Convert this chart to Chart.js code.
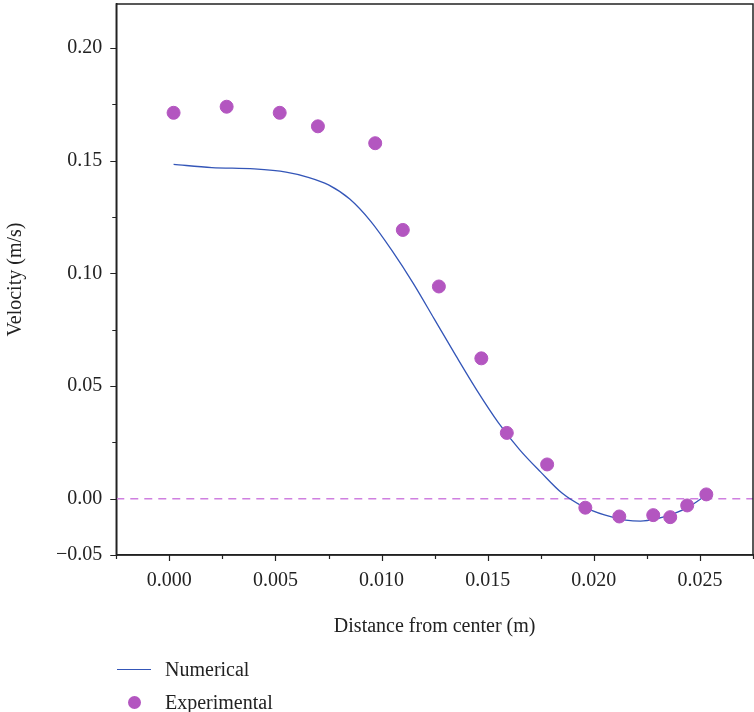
<!DOCTYPE html>
<html>
<head>
<meta charset="utf-8">
<script src="https://cdn.jsdelivr.net/npm/chart.js@4.4.1/dist/chart.umd.min.js"></script>
<style>
  html, body { margin: 0; padding: 0; background: #fff; }
  #wrap { position: relative; width: 754px; height: 712px; }
  #legend { position: absolute; left: 117px; top: 653px; font-family: "Liberation Serif", serif; font-size: 20px; color: #222; }
  .item { display: flex; align-items: center; height: 33px; }
  .swatch { width: 34px; margin-right: 14px; display: flex; justify-content: center; align-items: center; }
</style>
</head>
<body>
<div id="wrap">
  <canvas id="chart" width="754" height="712"></canvas>
  <div id="legend"></div>
</div>
<script>
// distance from center (m)
const expX = [0.0002, 0.0027, 0.0052, 0.0070, 0.0097, 0.0110, 0.0127, 0.0147, 0.0159, 0.0178, 0.0196, 0.0212, 0.0228, 0.0236, 0.0244, 0.0253];
// velocity (m/s)
const expY = [0.1713, 0.1740, 0.1713, 0.1653, 0.1578, 0.1193, 0.0942, 0.0623, 0.0292, 0.0152, -0.0040, -0.0079, -0.0073, -0.0082, -0.0030, 0.0019];

const numX = [0.0002, 0.0020, 0.0040, 0.0055, 0.0065, 0.0075, 0.0085, 0.0095, 0.0105, 0.0115, 0.0125, 0.0135, 0.0145, 0.0155, 0.0165, 0.0175, 0.0185, 0.0195, 0.0205, 0.0215, 0.0222, 0.0230, 0.0238, 0.0245, 0.0253];
const numY = [0.1484, 0.1470, 0.1464, 0.1450, 0.1428, 0.1393, 0.1330, 0.1230, 0.1100, 0.0955, 0.0795, 0.0635, 0.0480, 0.0338, 0.0218, 0.0118, 0.0025, -0.0035, -0.0072, -0.0095, -0.0100, -0.0088, -0.0065, -0.0035, 0.0016];

const xTicks = [-0.0025, 0, 0.0025, 0.005, 0.0075, 0.01, 0.0125, 0.015, 0.0175, 0.02, 0.0225, 0.025, 0.0275];
const xLabels = ["", "0.000", "", "0.005", "", "0.010", "", "0.015", "", "0.020", "", "0.025", ""];
const yTicks = [-0.025, 0, 0.025, 0.05, 0.075, 0.1, 0.125, 0.15, 0.175, 0.2];
const yLabels = ["\u22120.05", "0.00", "", "0.05", "", "0.10", "", "0.15", "", "0.20"];

const lineColor = "#3456b8";
const dotColor = "#b356c0";
const zeroColor = "#cf7fe0";
const axisColor = "#222";
const fontFam = '"Liberation Serif", serif';

const pts = (xs, ys) => xs.map((x, i) => ({ x: x, y: ys[i] }));

// box around the plot + tick marks (long for labelled ticks, short otherwise)
const frame = {
  id: "frame",
  afterDraw(chart) {
    const a = chart.chartArea, ctx = chart.ctx;
    const xs = chart.scales.x, ys = chart.scales.y;
    ctx.save();
    ctx.strokeStyle = axisColor;
    ctx.lineWidth = 1.5;
    ctx.strokeRect(a.left, a.top, a.right - a.left, a.bottom - a.top);
    ctx.lineWidth = 1.2;
    ctx.beginPath();
    xTicks.forEach((v, i) => {
      const px = Math.round(xs.getPixelForValue(v)) + 0.5;
      const len = xLabels[i] ? 6 : 4;
      ctx.moveTo(px, a.bottom);
      ctx.lineTo(px, a.bottom + len);
    });
    yTicks.forEach((v, i) => {
      const py = Math.round(ys.getPixelForValue(v)) + 0.5;
      const len = yLabels[i] ? 6 : 4;
      ctx.moveTo(a.left, py);
      ctx.lineTo(a.left - len, py);
    });
    ctx.stroke();
    ctx.restore();
  }
};

const chart = new Chart(document.getElementById("chart"), {
  type: "scatter",
  data: {
    datasets: [
      {
        label: "zero",
        data: pts([-0.0025, 0.0275], [0, 0]),
        showLine: true,
        borderColor: zeroColor,
        borderWidth: 1.5,
        borderDash: [8, 6],
        pointRadius: 0,
        order: 3
      },
      {
        label: "Numerical",
        data: pts(numX, numY),
        showLine: true,
        borderColor: lineColor,
        borderWidth: 1.3,
        pointRadius: 0,
        cubicInterpolationMode: "monotone",
        order: 2
      },
      {
        label: "Experimental",
        data: pts(expX, expY),
        backgroundColor: dotColor,
        borderColor: dotColor,
        pointRadius: 6.5,
        order: 1
      }
    ]
  },
  options: {
    responsive: false,
    animation: false,
    layout: { autoPadding: false, padding: { top: 4, right: 1, bottom: 69, left: 0 } },
    plugins: { legend: { display: false }, tooltip: { enabled: false } },
    scales: {
      x: {
        min: -0.0025,
        max: 0.0275,
        afterBuildTicks: (s) => { s.ticks = xTicks.map(v => ({ value: v })); },
        afterFit: (s) => { s.paddingRight = 0; },
        ticks: {
          autoSkip: false,
          maxRotation: 0,
          color: axisColor,
          font: { family: fontFam, size: 20 },
          padding: 8,
          callback: (v, i) => xLabels[i]
        },
        grid: { drawOnChartArea: false, tickLength: 6, tickColor: "rgba(0,0,0,0)" },
        border: { color: axisColor, width: 1.5 },
        title: { display: true, text: "Distance from center (m)", color: axisColor, font: { family: fontFam, size: 20 }, padding: { top: 14 } }
      },
      y: {
        min: -0.025,
        max: 0.2196,
        afterBuildTicks: (s) => { s.ticks = yTicks.map(v => ({ value: v })); },
        afterFit: (s) => { s.paddingTop = 0; },
        ticks: {
          autoSkip: false,
          color: axisColor,
          font: { family: fontFam, size: 20 },
          padding: 8,
          callback: (v, i) => yLabels[i]
        },
        grid: { drawOnChartArea: false, tickLength: 6, tickColor: "rgba(0,0,0,0)" },
        border: { color: axisColor, width: 1.5 },
        title: { display: true, text: "Velocity (m/s)", color: axisColor, font: { family: fontFam, size: 20 }, padding: { bottom: 20 } }
      }
    }
  },
  plugins: [frame]
});

// legend below the chart, one entry per row
const legend = document.getElementById("legend");
chart.data.datasets.filter(d => d.label !== "zero").forEach(d => {
  const row = document.createElement("div");
  row.className = "item";
  const sw = document.createElement("div");
  sw.className = "swatch";
  const mark = document.createElement("div");
  if (d.pointRadius) {
    mark.style.cssText = `width:13px;height:13px;border-radius:50%;background:${d.backgroundColor}`;
  } else {
    mark.style.cssText = `width:34px;height:0;border-top:1.5px solid ${d.borderColor}`;
  }
  sw.appendChild(mark);
  row.appendChild(sw);
  const txt = document.createElement("span");
  txt.textContent = d.label;
  row.appendChild(txt);
  legend.appendChild(row);
});
</script>
</body>
</html>
